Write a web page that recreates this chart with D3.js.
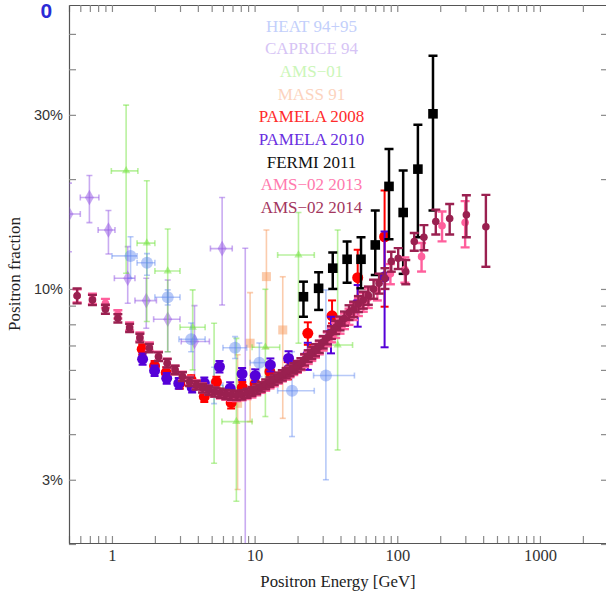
<!DOCTYPE html>
<html>
<head>
<meta charset="utf-8">
<script src="https://cdn.jsdelivr.net/npm/d3@7"></script>
<style>
body{margin:0;background:#fff;}
svg{display:block;}
</style>
</head>
<body>
<svg id="chart" width="606" height="591"></svg>
<script>
// values
// old experiments: [E GeV, fraction, low, high, E low, E high]
const heat = [
	[1.35, 0.1232, 0.107, 0.139, 1.0, 1.5],
	[1.76, 0.118, 0.109, 0.125, 1.5, 2.0],
	[2.46, 0.0949, 0.0904, 0.0994, 2.0, 3.0],
	[3.59, 0.0728, 0.0673, 0.0807, 2.95, 4.5],
	[5.2, 0.0545, 0.0485, 0.061, 4.5, 6.0],
	[7.3, 0.069, 0.0645, 0.074, 6.0, 8.8],
	[10.8, 0.0628, 0.0575, 0.0711, 9.3, 12.7],
	[18.3, 0.0526, 0.0394, 0.0673, 14.5, 26.2],
	[31.6, 0.0579, 0.030, 0.0994, 25.9, 50.1]
];
const caprice = [
	[0.50, 0.1605, 0.1265, 0.195, 0.42, 0.6],
	[0.695, 0.178, 0.152, 0.2045, 0.6, 0.81],
	[0.945, 0.145, 0.1247, 0.164, 0.8, 1.05],
	[1.29, 0.107, 0.0914, 0.1306, 1.04, 1.45],
	[1.74, 0.0929, 0.078, 0.107, 1.45, 2.05],
	[2.46, 0.0826, 0.0673, 0.1058, 1.96, 3.0],
	[3.79, 0.0718, 0.0563, 0.090, 3.06, 4.82],
	[5.92, 0.129, 0.0904, 0.178, 4.9, 6.97],
	[8.6, 0.052, 0.001, 0.1293, null, null]
];
const ams01 = [
	[1.257, 0.2106, 0.1104, 0.319, 0.99, 1.52],
	[1.755, 0.1335, 0.0814, 0.198, 1.5, 2.0],
	[2.46, 0.112, 0.0673, 0.146, 2.0, 3.0],
	[3.68, 0.0785, 0.060, 0.0994, 3.0, 4.5],
	[5.2, 0.0535, 0.0333, 0.0805, 4.5, 6.0],
	[7.45, 0.0433, 0.0262, 0.0732, 5.9, 9.6],
	[11.9, 0.0692, 0.0447, 0.0998, 9.6, 15.0],
	[20.3, 0.1239, 0.071, 0.162, 14.5, 26.2],
	[38.2, 0.0702, 0.0362, 0.145, 29.2, 48.6]
];
const mass91 = [
	[7.6, 0.0486, 0.0282, 0.066],
	[9.3, 0.071, 0.0433, 0.0977],
	[12.1, 0.1081, 0.0688, 0.145],
	[15.75, 0.0772, 0.0442, 0.108]
];
// [E GeV, fraction, low, high]
const pamela2008 = [
	[1.63, 0.0684, 0.066, 0.0705],
	[1.99, 0.0615, 0.0595, 0.0635],
	[2.40, 0.0590, 0.057, 0.061],
	[2.99, 0.0551, 0.0533, 0.057],
	[3.59, 0.0563, 0.0545, 0.058],
	[4.44, 0.0507, 0.049, 0.0524],
	[5.40, 0.0556, 0.0537, 0.0575],
	[6.85, 0.0488, 0.047, 0.0506],
	[8.2, 0.0537, 0.0518, 0.0556],
	[10.1, 0.0549, 0.053, 0.0568],
	[12.8, 0.0593, 0.057, 0.0616],
	[17.1, 0.0598, 0.0565, 0.063],
	[23.6, 0.0756, 0.0703, 0.081],
	[34.9, 0.0844, 0.0805, 0.093],
	[52.8, 0.1074, 0.091, 0.128],
	[81.5, 0.139, 0.0894, 0.186]
];
const pamela2010 = [
	[1.64, 0.0642, 0.062, 0.0665],
	[1.99, 0.0597, 0.0577, 0.0617],
	[2.42, 0.0569, 0.055, 0.0588],
	[2.94, 0.0551, 0.0533, 0.057],
	[3.65, 0.0537, 0.052, 0.0555],
	[4.44, 0.0553, 0.0535, 0.0572],
	[5.67, 0.0612, 0.059, 0.0635],
	[6.74, 0.0534, 0.0514, 0.0555],
	[8.17, 0.0585, 0.0563, 0.0607],
	[10.1, 0.0579, 0.0556, 0.0602],
	[12.9, 0.0619, 0.0594, 0.0645],
	[17.3, 0.0645, 0.0615, 0.0675],
	[23.6, 0.066, 0.060, 0.0712],
	[34.3, 0.0755, 0.0666, 0.0839],
	[52.8, 0.0914, 0.0788, 0.1025],
	[81.5, 0.108, 0.0692, 0.1437]
];
const fermi2011 = [
	[22.0, 0.0952, 0.0839, 0.1047],
	[28.1, 0.1004, 0.0876, 0.1111],
	[35.3, 0.114, 0.100, 0.1258],
	[44.5, 0.1206, 0.104, 0.1348],
	[55.7, 0.1206, 0.1004, 0.1386],
	[70.1, 0.132, 0.1092, 0.164],
	[87.5, 0.191, 0.1369, 0.2418],
	[110, 0.162, 0.110, 0.211],
	[139.5, 0.213, 0.1386, 0.2817],
	[178, 0.302, 0.164, 0.4355]
];
// AMS-02: [E GeV, fraction, error]
const ams2013 = [
	[0.57, 0.0958, 0.004], [0.73, 0.0940, 0.003], [0.90, 0.0914, 0.0025], [1.10, 0.0852, 0.0022],
	[1.33, 0.0790, 0.002], [1.57, 0.0740, 0.002], [1.83, 0.0695, 0.0018], [2.12, 0.0655, 0.0018],
	[2.44, 0.0627, 0.0017], [2.77, 0.0600, 0.0016], [3.12, 0.0577, 0.0016], [3.50, 0.0560, 0.0015],
	[3.90, 0.0547, 0.0015], [4.32, 0.0536, 0.0015], [4.77, 0.0528, 0.0015], [5.25, 0.0521, 0.0015],
	[5.75, 0.0516, 0.0015], [6.28, 0.0512, 0.0015], [6.86, 0.0509, 0.0015], [7.48, 0.0508, 0.0015],
	[8.15, 0.0510, 0.0015], [8.85, 0.0514, 0.0015], [9.58, 0.0520, 0.0016], [10.34, 0.0527, 0.0016],
	[11.13, 0.0535, 0.0016], [11.96, 0.0543, 0.0017], [12.83, 0.0551, 0.0017], [13.73, 0.0559, 0.0018],
	[14.67, 0.0568, 0.0018], [15.65, 0.0577, 0.0019], [16.66, 0.0585, 0.002], [17.71, 0.0593, 0.002],
	[18.81, 0.0602, 0.0021], [19.95, 0.0611, 0.0022], [21.15, 0.0622, 0.0023], [22.41, 0.0635, 0.0024],
	[23.76, 0.0648, 0.0025], [25.18, 0.0661, 0.0026], [26.72, 0.0675, 0.0027], [28.41, 0.0690, 0.0028],
	[30.27, 0.0708, 0.003], [32.32, 0.0728, 0.0032], [34.56, 0.0748, 0.0034], [37.01, 0.0770, 0.0036],
	[39.71, 0.0792, 0.0038], [42.66, 0.0816, 0.004], [45.90, 0.0840, 0.0043], [49.46, 0.0868, 0.0046],
	[53.40, 0.0893, 0.005], [57.79, 0.0920, 0.0054], [62.69, 0.0945, 0.0058], [72.5, 0.0990, 0.006],
	[89.5, 0.1100, 0.007], [113.0, 0.1130, 0.009], [148.0, 0.1226, 0.011], [206.0, 0.149, 0.014],
	[299.0, 0.152, 0.022]
];
const ams2014 = [
	[0.57, 0.0958, 0.0045], [0.73, 0.0933, 0.003], [0.90, 0.0880, 0.0025], [1.10, 0.0831, 0.0022],
	[1.33, 0.0782, 0.002], [1.57, 0.0734, 0.002], [1.83, 0.0689, 0.0018], [2.12, 0.0652, 0.0018],
	[2.44, 0.0626, 0.0017], [2.77, 0.0600, 0.0016], [3.12, 0.0575, 0.0016], [3.50, 0.0557, 0.0015],
	[3.90, 0.0545, 0.0015], [4.32, 0.0535, 0.0015], [4.77, 0.0528, 0.0015], [5.25, 0.0522, 0.0015],
	[5.75, 0.0518, 0.0015], [6.28, 0.0514, 0.0015], [6.86, 0.0512, 0.0015], [7.48, 0.0511, 0.0015],
	[8.15, 0.0513, 0.0015], [8.85, 0.0518, 0.0015], [9.58, 0.0524, 0.0015], [10.34, 0.0531, 0.0016],
	[11.13, 0.0539, 0.0016], [11.96, 0.0548, 0.0017], [12.83, 0.0556, 0.0017], [13.73, 0.0564, 0.0018],
	[14.67, 0.0572, 0.0018], [15.65, 0.0580, 0.0019], [16.66, 0.0588, 0.0019], [17.71, 0.0597, 0.002],
	[18.81, 0.0606, 0.002], [19.95, 0.0614, 0.0021], [21.15, 0.0624, 0.0022], [22.41, 0.0640, 0.0023],
	[23.76, 0.0655, 0.0024], [25.18, 0.0668, 0.0025], [26.72, 0.0680, 0.0026], [28.41, 0.0695, 0.0027],
	[30.27, 0.0715, 0.0028], [32.32, 0.0735, 0.003], [34.56, 0.0760, 0.0031], [37.01, 0.0785, 0.0033],
	[39.71, 0.0805, 0.0035], [42.66, 0.0830, 0.0037], [45.90, 0.0862, 0.004], [49.46, 0.0880, 0.0043],
	[53.40, 0.0910, 0.0046], [57.79, 0.0933, 0.005], [62.69, 0.0960, 0.0055], [68.23, 0.1000, 0.006],
	[74.58, 0.1036, 0.0065], [81.99, 0.1070, 0.007], [90.77, 0.1190, 0.0075], [101.5, 0.1214, 0.008],
	[114.7, 0.1115, 0.0085], [131.6, 0.1348, 0.0075], [153.7, 0.1386, 0.011], [186.2, 0.1530, 0.012],
	[233.0, 0.1560, 0.015], [305.0, 0.1596, 0.021], [418.0, 0.1480, 0.033]
];

const legendNames = ["HEAT 94+95", "CAPRICE 94", "AMS\u221201", "MASS 91", "PAMELA 2008",
	"PAMELA 2010", "FERMI 2011", "AMS\u221202 2013", "AMS\u221202 2014"];
const legendColors = ["#c3cffb", "#d6c4f5", "#cbf6b8", "#fcd3be", "#ff2b2b",
	"#6a2fe0", "#111111", "#ff7aae", "#a3365e"];

const xTicks = [0.5, 0.6, 0.7, 0.8, 0.9, 1, 2, 3, 4, 5, 6, 7, 8, 9, 10, 20, 30, 40, 50, 60, 70, 80, 90,
	100, 200, 300, 400, 500, 600, 700, 800, 900, 1000, 2000, 3000];
const xTickLabels = [1, 10, 100, 1000];
const yTicks = [0.02, 0.03, 0.04, 0.05, 0.06, 0.07, 0.08, 0.09, 0.1, 0.2, 0.3, 0.4, 0.5];
const yTickLabels = {0.03: "3%", 0.1: "10%", 0.3: "30%"};

const svg = d3.select("#chart");
const x = d3.scaleLog().domain([0.5, 3000]).range([69, 608]);
const y = d3.scaleLog().domain([0.02, 0.6]).range([544, 5]);

svg.append("defs").append("clipPath").attr("id", "plotclip")
	.append("rect").attr("x", 69.5).attr("y", 5).attr("width", 540).attr("height", 538);

const serif = "'Liberation Serif', 'Times New Roman', serif";
const sans = "'Liberation Sans', Arial, sans-serif";

function styleAxis(g) {
	g.select(".domain").attr("stroke", "#555").attr("stroke-width", 1.2);
	g.selectAll(".tick line").attr("stroke", "#8a8a8a").attr("stroke-width", 1.2);
}

// axes, ticks point inwards on all four sides
svg.append("g").attr("transform", "translate(0,543)")
	.call(d3.axisBottom(x).tickValues(xTicks).tickSize(-7).tickSizeOuter(0).tickPadding(6)
		.tickFormat(d => xTickLabels.includes(d) ? String(d) : ""))
	.call(styleAxis)
	.call(g => g.selectAll("text").attr("font-family", serif).attr("font-size", 16.5).attr("fill", "#333"));

svg.append("g").attr("transform", "translate(0,5)")
	.call(d3.axisTop(x).tickValues(xTicks).tickSize(-7).tickSizeOuter(0).tickFormat(""))
	.call(styleAxis);

svg.append("g").attr("transform", "translate(69,0)")
	.call(d3.axisLeft(y).tickValues(yTicks).tickSize(-7).tickSizeOuter(0).tickPadding(6)
		.tickFormat(d => yTickLabels[d] || ""))
	.call(styleAxis)
	.call(g => g.selectAll("text").attr("font-family", sans).attr("font-size", 14.5).attr("fill", "#333"));

svg.append("g").attr("transform", "translate(608,0)")
	.call(d3.axisRight(y).tickValues(yTicks).tickSize(-7).tickSizeOuter(0).tickFormat(""))
	.call(styleAxis);

svg.append("text").attr("x", 338).attr("y", 587).attr("text-anchor", "middle")
	.attr("font-family", serif).attr("font-size", 16.8).attr("fill", "#222")
	.text("Positron Energy [GeV]");
svg.append("text").attr("transform", "translate(20,274) rotate(-90)").attr("text-anchor", "middle")
	.attr("font-family", serif).attr("font-size", 17).attr("fill", "#222")
	.text("Positron fraction");

// stray blue glyph in the top-left corner
svg.append("text").attr("x", 46.3).attr("y", 18).attr("text-anchor", "middle")
	.attr("font-family", sans).attr("font-weight", "bold").attr("font-size", 21).attr("fill", "#2b2bd6")
	.text("0");

const plot = svg.append("g").attr("clip-path", "url(#plotclip)");

function drawSeries(rows, o) {
	const g = plot.append("g");
	rows.forEach(r => {
		const cx = x(r[0]), cy = y(r[1]);
		const yl = y(Math.max(r[2], 0.01)), yh = y(r[3]);
		const line = (x1, y1, x2, y2) => g.append("line")
			.attr("x1", x1).attr("y1", y1).attr("x2", x2).attr("y2", y2)
			.attr("stroke", o.color).attr("stroke-width", o.sw).attr("stroke-opacity", o.op);
		line(cx, yl, cx, yh);
		line(cx - o.cap, yh, cx + o.cap, yh);
		if (r[2] > 0.02) line(cx - o.cap, yl, cx + o.cap, yl);
		if (r[4] != null) {
			const xl = x(r[4]), xh = x(r[5]);
			line(xl, cy, xh, cy);
			line(xl, cy - o.cap, xl, cy + o.cap);
			line(xh, cy - o.cap, xh, cy + o.cap);
		}
		if (o.shape == "circle") {
			g.append("circle").attr("cx", cx).attr("cy", cy).attr("r", o.size)
				.attr("fill", o.color).attr("fill-opacity", o.op);
		} else if (o.shape == "square") {
			g.append("rect").attr("x", cx - o.size).attr("y", cy - o.size)
				.attr("width", o.size * 2).attr("height", o.size * 2)
				.attr("fill", o.color).attr("fill-opacity", o.op);
		} else {
			g.append("path").attr("d", d3.symbol().type(o.shape).size(o.size)())
				.attr("transform", "translate(" + cx + "," + cy + ")")
				.attr("fill", o.color).attr("fill-opacity", o.op);
		}
	});
}

const amsRows = rows => rows.map(r => [r[0], r[1], r[1] - r[2], r[1] + r[2]]);

drawSeries(mass91, {color: "#f8995c", op: 0.5, sw: 1.6, cap: 3, shape: "square", size: 4.5});
drawSeries(caprice, {color: "#9457e4", op: 0.5, sw: 1.6, cap: 3, shape: d3.symbolDiamond, size: 70});
drawSeries(ams01, {color: "#74e440", op: 0.5, sw: 1.6, cap: 3, shape: d3.symbolTriangle, size: 30});
drawSeries(heat, {color: "#5f88f0", op: 0.45, sw: 1.6, cap: 3, shape: "circle", size: 6});
drawSeries(pamela2008, {color: "#ff0000", op: 1, sw: 2, cap: 4, shape: "circle", size: 5.5});
drawSeries(pamela2010, {color: "#5500d8", op: 1, sw: 2, cap: 4, shape: "circle", size: 5.5});
drawSeries(fermi2011, {color: "#000000", op: 1, sw: 2.5, cap: 4.5, shape: "square", size: 4.8});
drawSeries(amsRows(ams2013), {color: "#ff5f9c", op: 1, sw: 2.4, cap: 4.5, shape: "circle", size: 3.8});
drawSeries(amsRows(ams2014), {color: "#9a2050", op: 1, sw: 2.4, cap: 4.5, shape: "circle", size: 3.8});

// legend as a coloured text list
svg.append("g").selectAll("text").data(legendNames).join("text")
	.attr("x", 311.5).attr("y", (d, i) => 31.5 + i * 22.7).attr("text-anchor", "middle")
	.attr("font-family", serif).attr("font-size", 17)
	.attr("fill", (d, i) => legendColors[i])
	.text(d => d);
</script>
</body>
</html>
